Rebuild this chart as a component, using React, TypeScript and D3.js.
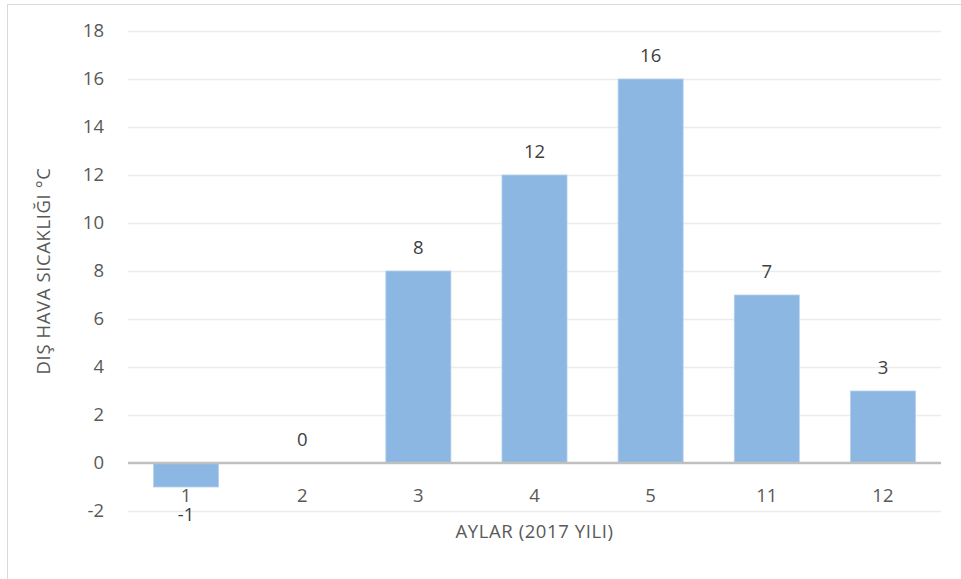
import React, { useEffect, useRef } from 'react';
import * as d3 from 'd3';

const months = ['1', '2', '3', '4', '5', '11', '12'];
const temps = [-1, 0, 8, 12, 16, 7, 3];
const yTicks = [-2, 0, 2, 4, 6, 8, 10, 12, 14, 16, 18];

const yTitle = 'DIŞ HAVA SICAKLIĞI °C';
const xTitle = 'AYLAR (2017 YILI)';

export default function App() {
  const svgRef = useRef<SVGSVGElement | null>(null);

  useEffect(() => {
    document.body.style.margin = '0';
    if (!svgRef.current) return;

    const svg = d3.select(svgRef.current);
    svg.selectAll('*').remove();

    const width = 961;
    const height = 579;
    const margin = { top: 31, right: 20, bottom: 68, left: 128 };
    const font = "'Open Sans', 'Noto Sans', sans-serif";
    const fontSize = 18.5;
    const textColor = '#595959';

    // chart frame (only left/top visible in the crop)
    svg.append('rect')
      .attr('x', 7.5)
      .attr('y', 4.5)
      .attr('width', width + 20)
      .attr('height', height + 20)
      .attr('fill', 'white')
      .attr('stroke', '#d9d9d9')
      .attr('stroke-width', 1);

    const x = d3.scaleBand()
      .domain(months)
      .range([margin.left, width - margin.right])
      .paddingInner(0.44)
      .paddingOuter(0.22);

    const y = d3.scaleLinear()
      .domain([-2, 18])
      .range([height - margin.bottom, margin.top]);

    // gridlines
    svg.append('g')
      .selectAll('line')
      .data(yTicks.filter(t => t !== 0))
      .join('line')
      .attr('x1', margin.left)
      .attr('x2', width - margin.right)
      .attr('y1', d => Math.round(y(d)) + 0.5)
      .attr('y2', d => Math.round(y(d)) + 0.5)
      .attr('stroke', '#ececec')
      .attr('stroke-width', 1.5);

    // y tick labels
    const yAxis = svg.append('g')
      .attr('transform', `translate(${margin.left - 24},0)`)
      .call(d3.axisLeft(y).tickValues(yTicks).tickSize(0).tickPadding(0).tickFormat(d => String(d)));
    yAxis.select('.domain').remove();
    yAxis.selectAll('text')
      .attr('font-family', font)
      .attr('font-size', fontSize)
      .attr('fill', textColor);

    const rows = months.map((m, i) => ({ m, v: temps[i] }));

    // bars
    svg.append('g')
      .selectAll('rect')
      .data(rows)
      .join('rect')
      .attr('x', d => x(d.m)!)
      .attr('width', x.bandwidth())
      .attr('y', d => y(Math.max(0, d.v)))
      .attr('height', d => Math.abs(y(d.v) - y(0)))
      .attr('fill', '#8cb7e2')
      .attr('stroke', '#b4d0ee')
      .attr('stroke-width', 0.8);

    // zero line
    svg.append('line')
      .attr('x1', margin.left)
      .attr('x2', width - margin.right)
      .attr('y1', y(0))
      .attr('y2', y(0))
      .attr('stroke', '#bfbfbf')
      .attr('stroke-width', 2.5);

    // value labels
    svg.append('g')
      .selectAll('text')
      .data(rows)
      .join('text')
      .attr('x', d => x(d.m)! + x.bandwidth() / 2)
      .attr('y', d => d.v < 0 ? y(d.v) + 34 : y(d.v) - 17)
      .attr('text-anchor', 'middle')
      .attr('font-family', font)
      .attr('font-size', fontSize)
      .attr('fill', '#404040')
      .text(d => d.v);

    // category labels
    svg.append('g')
      .selectAll('text')
      .data(months)
      .join('text')
      .attr('x', d => x(d)! + x.bandwidth() / 2)
      .attr('y', y(0) + 39)
      .attr('text-anchor', 'middle')
      .attr('font-family', font)
      .attr('font-size', fontSize)
      .attr('fill', textColor)
      .text(d => d);

    // axis titles
    svg.append('text')
      .attr('x', (margin.left + width - margin.right) / 2)
      .attr('y', 538)
      .attr('text-anchor', 'middle')
      .attr('font-family', font)
      .attr('font-size', fontSize)
      .attr('letter-spacing', 0.6)
      .attr('fill', textColor)
      .text(xTitle);

    svg.append('text')
      .attr('transform', `translate(50,${(y(-2) + y(18)) / 2}) rotate(-90)`)
      .attr('text-anchor', 'middle')
      .attr('font-family', font)
      .attr('font-size', fontSize)
      .attr('letter-spacing', 0.6)
      .attr('fill', textColor)
      .text(yTitle);
  }, []);

  return <svg ref={svgRef} width={961} height={579} style={{ display: 'block' }}></svg>;
}
